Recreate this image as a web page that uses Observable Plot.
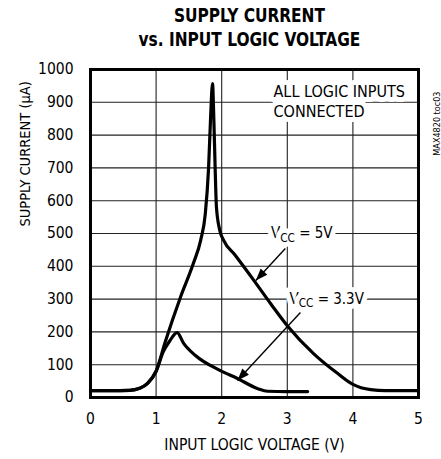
<!DOCTYPE html>
<html>
<head>
<meta charset="utf-8">
<script src="https://cdn.jsdelivr.net/npm/d3@7"></script>
<script src="https://cdn.jsdelivr.net/npm/@observablehq/plot@0.6"></script>
<style>
  body { margin: 0; background: white; }
  #wrap { width: 441px; font-family: "Liberation Sans Narrow", "DejaVu Sans Condensed", "Liberation Sans", sans-serif; }
  #title { height: 58px; box-sizing: border-box; padding-top: 3px; text-align: center; font-weight: bold; font-size: 19px; line-height: 24px; color: #000; }
  #title span { display: block; width: 441px; transform: translateX(29px) scaleX(0.9); transform-origin: 220px 0; }
</style>
</head>
<body>
<div id="wrap">
  <div id="title"><span>SUPPLY CURRENT</span><span>vs. INPUT LOGIC VOLTAGE</span></div>
  <div id="chart"></div>
</div>
<script>
// Vcc = 5V curve
const voltage5 = [0, 0.3, 0.6, 0.75, 0.87, 1.0, 1.14, 1.37, 1.57, 1.68, 1.75, 1.80, 1.83, 1.86, 1.88, 1.90, 1.92, 1.97, 2.03, 2.2, 2.49, 2.75, 3.0, 3.4, 3.77, 4.0, 4.27, 4.5, 5.0];
const current5 = [21, 21, 22, 28, 43, 80, 170, 305, 410, 480, 560, 700, 850, 957, 850, 700, 580, 510, 479, 435, 357, 285, 219, 134, 73, 40, 24, 21, 21];
// Vcc = 3.3V curve
const voltage33 = [0, 0.3, 0.6, 0.75, 0.87, 1.0, 1.11, 1.2, 1.32, 1.42, 1.6, 1.98, 2.24, 2.55, 2.7, 3.0, 3.31];
const current33 = [21, 21, 22, 28, 43, 80, 140, 170, 198, 165, 128, 82, 58, 27, 19, 18, 18];
// ticks
const xTicks = [0, 1, 2, 3, 4, 5];
const yTicks = [0, 100, 200, 300, 400, 500, 600, 700, 800, 900, 1000];
// annotations
const noteText = ["ALL LOGIC INPUTS\nCONNECTED"];
const noteX = [2.79];
const noteY = [905];
const seriesLabels = ["VCC = 5V", "VCC = 3.3V"];
const labelX = [3.22, 3.60];
const labelY = [500, 300];
const arrowFromX = [2.97, 3.20];
const arrowFromY = [454, 259];
const arrowToX = [2.52, 2.24];
const arrowToY = [357, 52];

const s5 = voltage5.map((v, i) => ({v, c: current5[i]}));
const s33 = voltage33.map((v, i) => ({v, c: current33[i]}));
const labels = seriesLabels.map((t, i) => ({t, x: labelX[i], y: labelY[i]}));
const arrows = arrowFromX.map((x1, i) => ({x1, y1: arrowFromY[i], x2: arrowToX[i], y2: arrowToY[i]}));
const notes = noteText.map((t, i) => ({t, x: noteX[i], y: noteY[i]}));

const FONT = '"Liberation Sans Narrow", "DejaVu Sans Condensed", "Liberation Sans", sans-serif';

const chart = Plot.plot({
  width: 441,
  height: 401,
  marginLeft: 90,
  marginRight: 23,
  marginTop: 11,
  marginBottom: 62,
  style: {fontFamily: FONT, fontSize: "15.5px", background: "white", color: "black"},
  x: {domain: [0, 5], ticks: xTicks, label: null},
  y: {domain: [0, 1000], ticks: yTicks, label: null},
  marks: [
    Plot.gridX(xTicks, {stroke: "#222", strokeOpacity: 1, strokeWidth: 1.1}),
    Plot.gridY(yTicks, {stroke: "#222", strokeOpacity: 1, strokeWidth: 1.1}),
    Plot.axisX(xTicks, {tickSize: 0, tickPadding: 15, fontSize: 15.5, tickFormat: d => String(d)}),
    Plot.axisY(yTicks, {tickSize: 0, tickPadding: 17, fontSize: 15.5, tickFormat: d => String(d)}),
    Plot.text(["SUPPLY CURRENT (µA)"], {frameAnchor: "left", dx: -65, dy: -7, rotate: -90, fontSize: 14.5}),
    Plot.text(["INPUT LOGIC VOLTAGE (V)"], {frameAnchor: "bottom", lineAnchor: "middle", dy: 48, fontSize: 15.5}),
    Plot.text(["MAX4820 toc03"], {frameAnchor: "top-right", dx: 15, dy: 22, rotate: -90, fontSize: 9}),
    Plot.text(notes, {x: "x", y: "y", text: "t", textAnchor: "start", lineHeight: 1.25, fontSize: 16, fill: "black", stroke: "white", strokeWidth: 10}),
    Plot.text(labels, {x: "x", y: "y", text: "t", fontSize: 15, fill: "black", stroke: "white", strokeWidth: 10, className: "vcc-label"}),
    Plot.link(arrows, {x1: "x1", y1: "y1", x2: "x2", y2: "y2", stroke: "black", strokeWidth: 1.4, className: "ann-arrow"}),
    Plot.line(s33, {x: "v", y: "c", curve: "monotone-x", stroke: "black", strokeWidth: 3.2}),
    Plot.line(s5, {x: "v", y: "c", curve: "monotone-x", stroke: "black", strokeWidth: 3.2}),
    Plot.frame({stroke: "black", strokeWidth: 3})
  ]
});
document.getElementById("chart").appendChild(chart);

// filled arrowheads
const svg = d3.select(chart);
const defs = svg.insert("defs", ":first-child");
defs.append("marker")
  .attr("id", "ahead")
  .attr("viewBox", "0 -5 12 10")
  .attr("refX", 12).attr("refY", 0)
  .attr("markerUnits", "userSpaceOnUse")
  .attr("markerWidth", 13).attr("markerHeight", 10)
  .attr("orient", "auto")
  .append("path").attr("d", "M0,-4.5L12,0L0,4.5Z").attr("fill", "black");
svg.selectAll(".ann-arrow path").attr("marker-end", "url(#ahead)");

// subscript CC
svg.selectAll(".vcc-label text").each(function() {
  const t = this.textContent;
  if (t.startsWith("VCC")) {
    const rest = t.slice(3);
    const el = d3.select(this);
    el.text(null);
    el.append("tspan").text("V");
    el.append("tspan").attr("font-size", "0.78em").attr("dy", "0.28em").text("CC");
    el.append("tspan").attr("dy", "-0.22em").text(rest);
  }
});
</script>
</body>
</html>
